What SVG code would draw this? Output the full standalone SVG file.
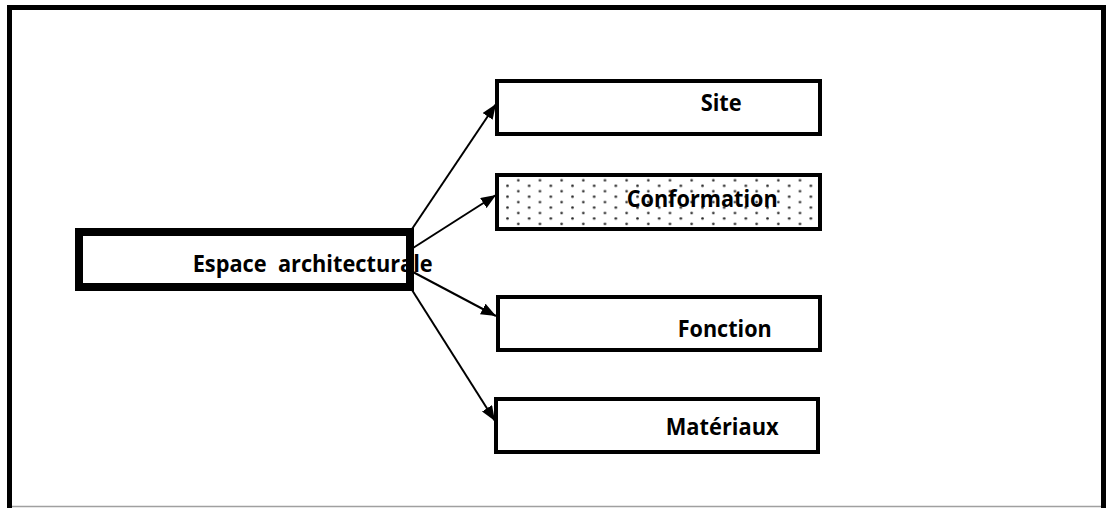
<svg xmlns="http://www.w3.org/2000/svg" width="1107" height="508" viewBox="0 0 1107 508">
  <style>
    .box { fill: #ffffff; stroke: #000000; stroke-width: 4; }
    .main { fill: #ffffff; stroke: #000000; stroke-width: 8; }
    .label { font-family: "Open Sans", "Liberation Sans", sans-serif; font-weight: bold; font-size: 24px; fill: #000000; }
    .link { stroke: #000000; stroke-width: 2; fill: none; marker-end: url(#head); }
  </style>
  <defs>
    <marker id="head" markerUnits="userSpaceOnUse" markerWidth="15" markerHeight="12" refX="15" refY="6" orient="auto">
      <path d="M0,0 L15,6 L0,12 z" fill="#000000"/>
    </marker>
    <!-- staggered dot fill -->
    <pattern id="dots" patternUnits="userSpaceOnUse" x="512.9" y="177.6" width="21.67" height="10.9">
      <circle cx="5.4" cy="2.7" r="1.3" fill="#2a2a2a"/>
      <circle cx="16.25" cy="8.15" r="1.3" fill="#2a2a2a"/>
    </pattern>
  </defs>

  <rect width="1107" height="508" fill="#ffffff"/>

  <!-- frame -->
  <path d="M9.5,508 V7.5 H1103.5 V508" fill="none" stroke="#000000" stroke-width="5"/>
  <line x1="12" y1="506.5" x2="1101" y2="506.5" stroke="#a0a0a0" stroke-width="1.5"/>

  <g id="connectors">
    <line class="link" x1="412" y1="229" x2="496" y2="104"/>
    <line class="link" x1="413" y1="248" x2="496" y2="195"/>
    <line class="link" x1="413" y1="272" x2="496" y2="316"/>
    <line class="link" x1="412" y1="290" x2="495" y2="421"/>
  </g>

  <g id="node-site">
    <rect class="box" x="497" y="81" width="323" height="53"/>
    <text class="label" x="700.7" y="111" textLength="41" lengthAdjust="spacingAndGlyphs">Site</text>
  </g>

  <g id="node-conformation">
    <rect class="box" x="497" y="175" width="323" height="54" style="fill:url(#dots)"/>
    <text class="label" x="626.7" y="206.5" textLength="151" lengthAdjust="spacingAndGlyphs">Conformation</text>
  </g>

  <g id="node-fonction">
    <rect class="box" x="498" y="297" width="322" height="53"/>
    <text class="label" x="677.7" y="336.5" textLength="94" lengthAdjust="spacingAndGlyphs">Fonction</text>
  </g>

  <g id="node-materiaux">
    <rect class="box" x="496" y="399" width="322" height="53"/>
    <text class="label" x="665.7" y="435" textLength="113" lengthAdjust="spacingAndGlyphs">Matériaux</text>
  </g>

  <g id="node-espace">
    <rect class="main" x="79" y="232" width="331" height="55"/>
    <text class="label" x="192.7" y="271.5" textLength="240" lengthAdjust="spacingAndGlyphs" xml:space="preserve">Espace  architecturale</text>
  </g>
</svg>
